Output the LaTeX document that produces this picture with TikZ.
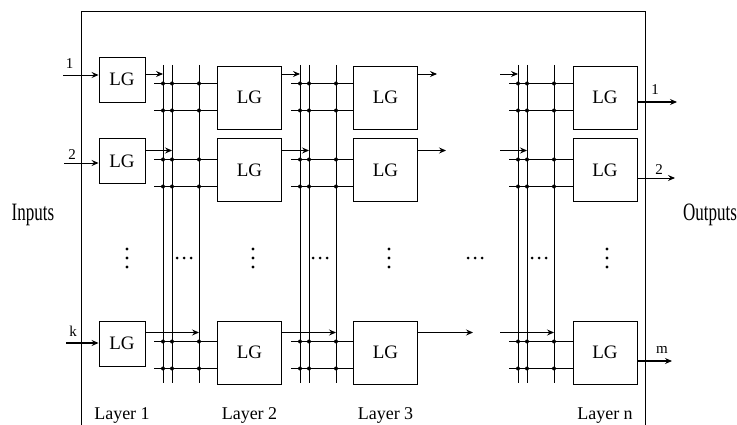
\documentclass[tikz,border=0pt]{standalone}
\usepackage{fontspec}
\setmainfont{Liberation Serif}
\usetikzlibrary{arrows.meta}

\tikzset{
  >={Stealth[length=7pt,width=6pt,inset=2.5pt]},
  wire/.style={line width=0.9pt},
  heavy/.style={line width=1.8pt},
  lgbox/.style={draw, line width=0.9pt, inner sep=0pt,
    minimum width=64pt, minimum height=63pt,
    font=\fontsize{19}{21}\selectfont},
  lgfirst/.style={lgbox, minimum width=46pt, minimum height=45pt},
  lbl/.style={inner sep=0pt, anchor=base, font=\fontsize{15}{17}\selectfont},
  laylbl/.style={inner sep=0pt, anchor=base, font=\fontsize{18}{20}\selectfont},
  sidelbl/.style={inner sep=0pt, anchor=base, font=\fontsize{25}{27}\selectfont}
}

\begin{document}
\begin{tikzpicture}[x=1pt, y=-1pt, wire]
    \useasboundingbox (0,0) rectangle (737,425);
    % Outer frame (open at the bottom)
    \draw (81,425) -- (81,11) -- (645,11) -- (645,425);

    % Logic gate blocks
    \node[lgfirst] (lg1a) at (122,79.5) {LG};
    \node[lgfirst] (lg1b) at (122,161) {LG};
    \node[lgfirst] (lg1k) at (122,343.5) {LG};
    \foreach \l/\x in {2/249.5, 3/385.5, n/605} {
        \node[lgbox] (lg\l a) at (\x,97.5) {LG};
        \node[lgbox] (lg\l b) at (\x,170) {LG};
        \node[lgbox] (lg\l k) at (\x,352.5) {LG};
    }

    % Vertical buses between the layers
    \foreach \l/\x in {1/163, 2/300, n/518} {
        \coordinate (bus\l a) at (\x,65);
        \coordinate (bus\l b) at (\x+9,65);
        \coordinate (bus\l k) at (\x+36,65);
        \foreach \s in {a,b,k}
            \draw (bus\l\s) -- ++(0,318);
    }

    % Taps from the buses into layers 2, 3 and n
    \foreach \l/\m in {1/2, 2/3, n/n} {
        \foreach \r/\ya/\yb in {a/83.5/110.5, b/159.5/186.5, k/341.5/368.5} {
            \foreach \y in {\ya,\yb} {
                \coordinate (tap) at ([xshift=-9pt]bus\l a |- 0,\y);
                \draw (tap) -- (tap -| lg\m\r.west);
                \foreach \s in {a,b,k}
                    \fill (bus\l\s |- tap) circle (2pt);
            }
        }
    }
    \draw[heavy] (bus2k |- 0,159.5) -- (lg3b.west |- 0,159.5);
    \draw[heavy] (busnk |- 0,159.5) -- (lgnb.west |- 0,159.5);

    % Row output levels
    \coordinate (oa) at (0,74);
    \coordinate (ob) at (0,150.5);
    \coordinate (ok) at (0,332.5);

    % Outputs of layers 1 and 2 onto the buses
    \foreach \l/\m in {1/1, 2/2}
        \foreach \r in {a,b,k}
            \draw[->] (lg\m\r.east |- o\r) -- (bus\l\r |- o\r);

    % Outputs of layer 3 (free ends)
    \coordinate (e3a) at (437,74);
    \coordinate (e3b) at (446,150.5);
    \coordinate (e3k) at (473,332.5);
    \foreach \r in {a,b,k}
        \draw[->] (lg3\r.east |- o\r) -- (e3\r);

    % Incoming lines to the bus of layer n
    \foreach \r in {a,b,k} {
        \coordinate (s\r) at (500,0);
        \draw[->] (s\r |- o\r) -- (busn\r |- o\r);
    }

    % Inputs
    \coordinate (in1) at (63,75);
    \coordinate (in2) at (64,163);
    \coordinate (ink) at (66,343);
    \draw[->] (in1) -- (in1 -| lg1a.west);
    \draw[->] (in2) -- (in2 -| lg1b.west);
    \draw[->, line width=1.4pt] (ink) -- (ink -| lg1k.west);
    \node[lbl] (t1) at (69.5,69) {1};
    \node[lbl] (t2) at (72,160) {2};
    \node[lbl] (tk) at (73,336) {k};

    % Outputs
    \coordinate (out1) at (677,102);
    \coordinate (out2) at (675,178);
    \coordinate (outm) at (672,361);
    \draw[->, line width=1.4pt] (out1 -| lgna.east) -- (out1);
    \draw[->] (out2 -| lgnb.east) -- (out2);
    \draw[->, line width=1.4pt] (outm -| lgnk.east) -- (outm);
    \node[lbl] (u1) at (655,95) {1};
    \node[lbl] (u2) at (659,175) {2};
    \node[lbl] (um) at (662,353) {m};

    % Side labels
    \node[sidelbl] (inputs) at (33,221) {\scalebox{0.68}[1]{Inputs}};
    \node[sidelbl] (outputs) at (710,221) {\scalebox{0.68}[1]{Outputs}};

    % Layer labels
    \node[laylbl] (lay1) at (lg1k |- 0,419) {Layer 1};
    \node[laylbl] (lay2) at (lg2k |- 0,419) {Layer 2};
    \node[laylbl] (lay3) at (lg3k |- 0,419) {Layer 3};
    \node[laylbl] (layn) at (lgnk |- 0,419) {Layer n};

    % Vertical and horizontal ellipses
    \foreach \x in {127,253,389,607}
        \foreach \y in {249,258,267}
            \fill (\x,\y) circle (1.6pt);
    \foreach \x in {177,313,468,532}
        \foreach \d in {0,7,14}
            \fill (\x+\d,258) circle (1.5pt);
\end{tikzpicture}
\end{document}
